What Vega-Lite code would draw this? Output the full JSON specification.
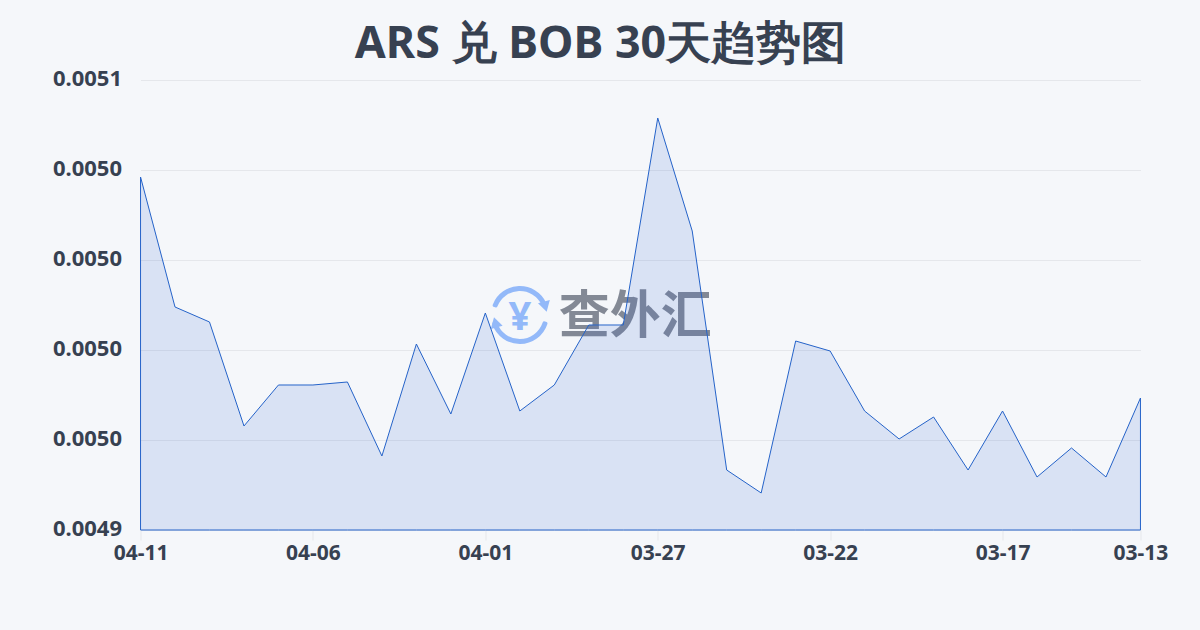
{
"$schema":"https://vega.github.io/schema/vega-lite/v6.json",
"width":1000,"height":450,
"autosize":{"type":"none"},
"padding":{"left":140.5,"top":80,"right":59.5,"bottom":100},
"background":"#f5f7fa",
"title":{"text":"ARS 兑 BOB 30天趋势图","anchor":"middle","frame":"group","dx":-40,"offset":-1,"fontSize":44.8,"fontWeight":"bold","font":"Noto Sans","color":"#374151"},
"config":{"view":{"stroke":null},"font":"Noto Sans",
 "axisX":{"title":null,"labelAngle":0,"labelAlign":"center","labelBaseline":"top","labelFontSize":21,"labelFontWeight":"bold","labelColor":"#374151","labelPadding":2,"ticks":true,"tickColor":"#e5e7eb","tickSize":10,"domain":false,"grid":false,"labelOverlap":false},
 "axisY":{"title":null,"labelFontSize":22,"labelFontWeight":"bold","labelColor":"#374151","labelPadding":19,"labelOffset":-2,"tickSize":0,"domain":false,"grid":true,"gridColor":"#e5e7eb","gridWidth":1}},
"datasets":{"mark":[{"label":"查外汇"}]},
"layer":[
{"data":{"name":"mark"},
 "mark":{"type":"arc","radius":29,"radius2":24,"theta":-1.27,"theta2":1.2,"cornerRadius":2,"color":"#93b9f9"},"encoding":{"x":{"datum":"03-31","type":"ordinal","scale":{"type":"point","padding":0.001,"domain":["04-11","04-10","04-09","04-08","04-07","04-06","04-05","04-04","04-03","04-02","04-01","03-31","03-30","03-29","03-28","03-27","03-26","03-25","03-24","03-23","03-22","03-21","03-20","03-19","03-18","03-17","03-16","03-15","03-14","03-13"]},"axis":{"values":["04-11","04-06","04-01","03-27","03-22","03-17","03-13"]}},"y":{"datum":0.00499733,"type":"quantitative","scale":{"domain":[0.00494,0.00506],"zero":false,"nice":false},"axis":{"values":[0.00494,0.004964,0.004988,0.005012,0.005036,0.00506],"format":".4f"}}}},
{"data":{"name":"mark"},
 "mark":{"type":"arc","radius":29,"radius2":24,"theta":1.82,"theta2":4.45,"cornerRadius":2,"color":"#93b9f9"},"encoding":{"x":{"datum":"03-31","type":"ordinal"},"y":{"datum":0.00499733,"type":"quantitative"}}},
{"data":{"name":"mark"},
 "mark":{"type":"point","shape":"triangle","filled":true,"size":150,"angle":165,"xOffset":25,"yOffset":-10,"color":"#93b9f9","opacity":1},"encoding":{"x":{"datum":"03-31","type":"ordinal"},"y":{"datum":0.00499733,"type":"quantitative"}}},
{"data":{"name":"mark"},
 "mark":{"type":"point","shape":"triangle","filled":true,"size":150,"angle":-15,"xOffset":-24,"yOffset":9,"color":"#93b9f9","opacity":1},"encoding":{"x":{"datum":"03-31","type":"ordinal"},"y":{"datum":0.00499733,"type":"quantitative"}}},
{"data":{"values":[{"label":"¥"}]},
 "mark":{"type":"text","fontSize":40,"fontWeight":"bold","font":"Noto Sans","color":"#93b9f9","baseline":"middle","align":"center"},"encoding":{"text":{"field":"label"},"x":{"datum":"03-31","type":"ordinal"},"y":{"datum":0.00499653,"type":"quantitative"}}},
{"data":{"name":"mark"},
 "mark":{"type":"text","fontSize":51,"fontWeight":"bold","font":"Noto Sans CJK SC","color":"#6b7280","opacity":0.82,"baseline":"middle","align":"center","xOffset":12},"encoding":{"text":{"field":"label"},"x":{"datum":"03-28","type":"ordinal"},"y":{"datum":0.00499653,"type":"quantitative"}}},
{"data":{"values":[
{"date":"04-11","rate":0.00503413},{"date":"04-10","rate":0.00499947},{"date":"04-09","rate":0.00499547},{"date":"04-08","rate":0.00496773},{"date":"04-07","rate":0.00497867},{"date":"04-06","rate":0.00497867},{"date":"04-05","rate":0.00497947},{"date":"04-04","rate":0.00495973},{"date":"04-03","rate":0.0049896},{"date":"04-02","rate":0.00497093},{"date":"04-01","rate":0.00499787},{"date":"03-31","rate":0.00497173},{"date":"03-30","rate":0.00497867},{"date":"03-29","rate":0.00499467},{"date":"03-28","rate":0.00499467},{"date":"03-27","rate":0.00504987},{"date":"03-26","rate":0.00501973},{"date":"03-25","rate":0.004956},{"date":"03-24","rate":0.00494987},{"date":"03-23","rate":0.0049904},{"date":"03-22","rate":0.00498773},{"date":"03-21","rate":0.00497173},{"date":"03-20","rate":0.00496427},{"date":"03-19","rate":0.00497013},{"date":"03-18","rate":0.004956},{"date":"03-17","rate":0.00497173},{"date":"03-16","rate":0.00495413},{"date":"03-15","rate":0.00496187},{"date":"03-14","rate":0.00495413},{"date":"03-13","rate":0.0049752}
]},
 "mark":{"type":"area","color":"#2f62d8","fillOpacity":0.14,"stroke":"#2563c9","strokeWidth":1,"interpolate":"linear"},
 "encoding":{
  "x":{"field":"date","type":"ordinal","sort":null},
  "y":{"field":"rate","type":"quantitative","stack":null}
 }}
]
}
